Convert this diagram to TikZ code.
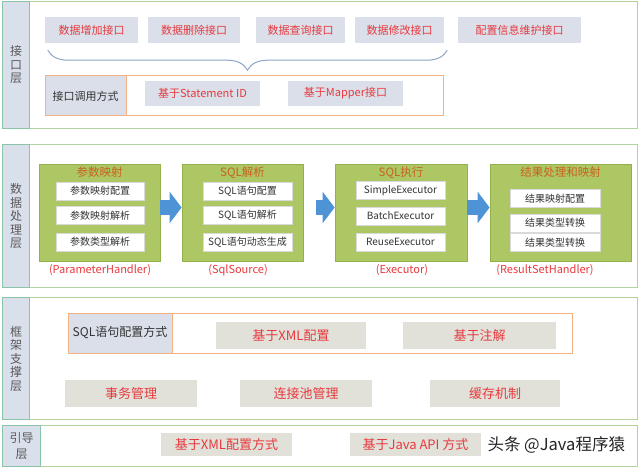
\documentclass[tikz,border=0pt]{standalone}
\usepackage{fontspec}
\setmainfont{Noto Sans CJK SC}
\usepackage{xcolor}
\usepackage{tikz}
\usetikzlibrary{decorations.pathreplacing,arrows.meta}

\definecolor{laygreen}{HTML}{B3D39C}
\definecolor{labfill}{HTML}{D9E0EC}
\definecolor{labline}{HTML}{8CC4A8}
\definecolor{ifill}{HTML}{DADFEA}
\definecolor{redtxt}{HTML}{E8393E}
\definecolor{orangeline}{HTML}{F4B183}
\definecolor{beige}{HTML}{E1E1D9}
\definecolor{olive}{HTML}{ADC765}
\definecolor{oliveline}{HTML}{93B14B}
\definecolor{browntxt}{HTML}{C8621C}
\definecolor{arrowblue}{HTML}{4D93D6}
\definecolor{bracecol}{HTML}{8EA6C6}

\tikzset{
    layer/.style={draw=laygreen, line width=1.2pt, fill=white, anchor=north west, inner sep=0pt},
    laylab/.style={draw=labline, line width=1pt, fill=labfill, anchor=north west, inner sep=0pt,
        align=center, text=black!65, font=\fontsize{12}{13.5}\selectfont},
    ibox/.style={fill=ifill, text=redtxt, inner sep=0pt, font=\fontsize{11}{13}\selectfont},
    callbox/.style={draw=orangeline, line width=1pt, inner sep=0pt},
    hdbox/.style={draw=orangeline, line width=1pt, fill=ifill, inner sep=0pt, text=black!80,
        font=\fontsize{11}{13}\selectfont},
    gbox/.style={draw=oliveline, line width=0.8pt, fill=olive, minimum height=97pt, inner sep=0pt},
    gtitle/.style={text=browntxt, font=\fontsize{11.5}{13}\selectfont},
    wbox/.style={draw=black!15, fill=white, minimum height=18pt, inner sep=0pt, text=black!80,
        font=\fontsize{10}{12}\selectfont},
    hlab/.style={text=redtxt, font=\fontsize{11}{13}\selectfont},
    bbox/.style={fill=beige, text=redtxt, minimum height=27pt, inner sep=0pt, font=\fontsize{13}{15}\selectfont},
    flow/.style={arrowblue, line width=15pt, -{Triangle[length=12pt, width=31pt]}}
}

\begin{document}
\begin{tikzpicture}[x=1pt, y=-1pt]
    \useasboundingbox (0,0) rectangle (640,468);

    % interface layer
    \node[layer, minimum width=635pt, minimum height=127pt] (L1) at (2,1) {};
    \node[laylab, minimum width=27pt, minimum height=127pt] (L1lab) at (2,1) {接\\口\\层};
    \foreach \nm/\cx/\w/\txt in {add/91.5/93/数据增加接口, del/194/92/数据删除接口,
        qry/300.5/89/数据查询接口, mod/399.5/89/数据修改接口, cfg/519.5/123/配置信息维护接口}
        \node[ibox, minimum width=\w pt, minimum height=26pt] (\nm) at (\cx,30) {\txt};
    \draw[bracecol, line width=1pt, decorate, decoration={brace, mirror, amplitude=20pt}]
        ([shift={(3,7)}]add.south west) -- ([shift={(3,7)}]mod.south east);
    \node[callbox, minimum width=398pt, minimum height=40pt] (call) at (244,96) {};
    \node[hdbox, minimum width=81pt, minimum height=40pt, anchor=west] (callhd) at (call.west) {接口调用方式};
    \node[ibox, minimum width=115pt, minimum height=25pt] (stid) at (202.5,93.5) {基于Statement ID};
    \node[ibox, minimum width=115pt, minimum height=25pt] (mapi) at (345.5,93.5) {基于Mapper接口};

    % data processing layer
    \node[layer, minimum width=635pt, minimum height=143pt] (L2) at (2,144) {};
    \node[laylab, minimum width=27pt, minimum height=143pt] (L2lab) at (2,144) {数\\据\\处\\理\\层};
    \node[gbox, minimum width=121pt] (pm) at (99.5,212.5) {};
    \node[gbox, minimum width=121pt] (sp) at (242.5,212.5) {};
    \node[gbox, minimum width=132pt] (ex) at (401,212.5) {};
    \node[gbox, minimum width=141pt] (rs) at (560.5,212.5) {};
    \node[gtitle] (pmt) at ([yshift=-9pt]pm.north) {参数映射};
    \node[gtitle] (spt) at ([yshift=-9pt]sp.north) {SQL解析};
    \node[gtitle] (ext) at ([yshift=-9pt]ex.north) {SQL执行};
    \node[gtitle] (rst) at ([yshift=-9pt]rs.north) {结果处理和映射};
    \foreach \nm/\cx/\cy/\w/\txt in {pm1/100/191/88/参数映射配置, pm2/100/215.5/88/参数映射解析,
        pm3/100/242/88/参数类型解析, sp1/247.5/191/89/SQL语句配置, sp2/247.5/215.5/89/SQL语句解析,
        sp3/247.5/242/89/SQL语句动态生成, ex1/400.5/190.5/89/SimpleExecutor,
        ex2/400.5/216/89/BatchExecutor, ex3/400.5/242/89/ReuseExecutor,
        rs1/555/198.5/90/结果映射配置, rs2/555/223/90/结果类型转换, rs3/555/242.5/90/结果类型转换}
        \node[wbox, minimum width=\w pt] (\nm) at (\cx,\cy) {\txt};
    \node[hlab] (pmh) at (100,270) {(ParameterHandler)};
    \node[hlab] (sph) at (238,270) {(SqlSource)};
    \node[hlab] (exh) at (402,270) {(Executor)};
    \node[hlab] (rsh) at (545,270) {(ResultSetHandler)};
    \draw[flow] ([yshift=5pt]pm.east) -- ([yshift=5pt]sp.west);
    \draw[flow] ([xshift=13pt, yshift=5pt]sp.east) -- ([yshift=5pt]ex.west);
    \draw[flow] ([yshift=5pt]ex.east) -- ([yshift=5pt]rs.west);

    % framework layer
    \node[layer, minimum width=635pt, minimum height=122pt] (L3) at (2,297) {};
    \node[laylab, minimum width=27pt, minimum height=122pt] (L3lab) at (2,297) {框\\架\\支\\撑\\层};
    \node[callbox, minimum width=504pt, minimum height=40pt] (sqlcfg) at (320,333) {};
    \node[hdbox, minimum width=104pt, minimum height=40pt, anchor=west, font=\fontsize{12}{14}\selectfont]
        (sqlhd) at (sqlcfg.west) {SQL语句配置方式};
    \node[bbox, minimum width=150pt] (xmlc) at (291,335.5) {基于XML配置};
    \node[bbox, minimum width=153pt] (anno) at (479.5,335.5) {基于注解};
    \node[bbox, minimum width=132pt] (tx) at (131,393.5) {事务管理};
    \node[bbox, minimum width=132pt] (pool) at (306,393.5) {连接池管理};
    \node[bbox, minimum width=130pt] (cache) at (495,393.5) {缓存机制};

    % bootstrap layer
    \node[layer, minimum width=635pt, minimum height=41pt] (L4) at (2,425) {};
    \node[laylab, minimum width=38pt, minimum height=41pt, font=\fontsize{12}{16}\selectfont]
        (L4lab) at (2,425) {引导\\层};
    \node[bbox, minimum width=131pt, minimum height=23pt] (xmlb) at (226.5,444.5) {基于XML配置方式};
    \node[bbox, minimum width=131pt, minimum height=23pt] (javab) at (415.5,444.5) {基于Java API 方式};
    \node[anchor=west, text=black!85, font=\fontsize{16.5}{19}\selectfont] (wm) at (484,445) {头条 @Java程序猿};
\end{tikzpicture}
\end{document}
